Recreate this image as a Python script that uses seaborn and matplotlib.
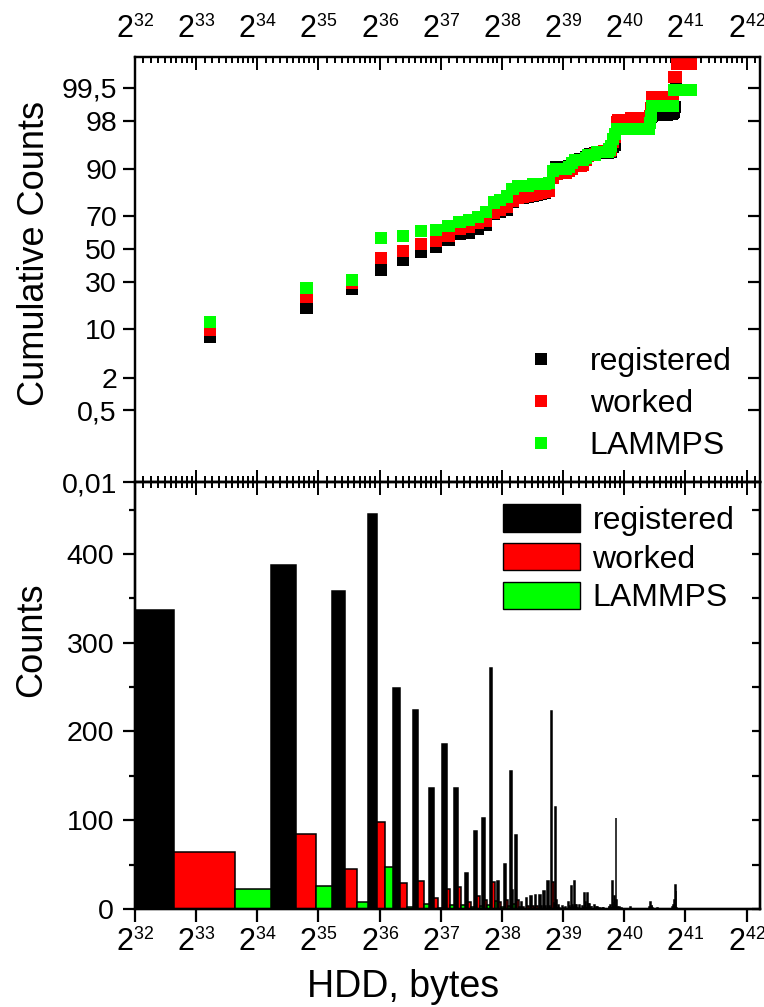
import math
import numpy as np
import pandas as pd
import matplotlib
matplotlib.use("Agg")
import matplotlib.pyplot as plt
import matplotlib._mathtext as _mt
from matplotlib.ticker import (FixedLocator, NullLocator, LogLocator, FuncFormatter,
                               MultipleLocator, NullFormatter)
from matplotlib.lines import Line2D
from matplotlib.patches import Patch
import seaborn as sns

# ---------------- data (histogram of HDD sizes, 20 GB bins starting at 0) ----------------
series_names = ["registered", "worked", "LAMMPS"]
series_colors = ["#000000", "#ff0000", "#00ff00"]
bin_width_gb = 20

registered = [337, 387, 358, 445, 249, 224, 136, 186, 136, 41,
              88, 102, 272, 32, 51, 156, 83, 8, 12, 15,
              16, 16, 20, 31, 223, 115, 5, 3, 2, 8,
              26, 31, 4, 4, 3, 18, 18, 6, 3, 5,
              2, 1, 1, 2, 1, 1, 3, 4, 31, 15,
              103, 3, 2, 1, 1, 0, 1, 0, 1, 2,
              1, 0, 1, 0, 0, 1, 0, 0, 1, 0,
              0, 0, 0, 2, 8, 4, 1, 0, 0, 0,
              1, 0, 0, 0, 0, 1, 0, 0, 0, 0,
              1, 0, 0, 0, 0, 2, 4, 10, 27, 20,
              0, 0, 0, 0, 0, 0, 0, 0, 0, 0,
              0, 0, 0, 0, 0, 0, 0]

worked = [64, 84, 45, 98, 29, 31, 12, 23, 25, 8,
          15, 10, 30, 8, 10, 21, 10, 2, 3, 3,
          3, 3, 3, 3, 30, 10, 1, 1, 0, 3,
          5, 4, 1, 0, 1, 8, 6, 2, 0, 1,
          2, 0, 0, 1, 0, 0, 1, 1, 8, 5,
          10, 1, 0, 0, 0, 0, 0, 0, 0, 1,
          0, 0, 0, 0, 0, 0, 0, 0, 0, 0,
          0, 0, 0, 1, 3, 3, 0, 0, 0, 0,
          0, 0, 0, 0, 0, 0, 0, 0, 0, 0,
          0, 0, 0, 0, 0, 0, 3, 0, 0, 1,
          0, 0, 0, 0, 0, 0, 0, 0, 0, 0,
          0, 0, 0, 0, 0, 0, 0]

lammps = [22, 26, 8, 47, 2, 6, 1, 4, 4, 2,
          3, 5, 9, 2, 3, 6, 2, 0, 0, 1,
          0, 0, 0, 1, 7, 1, 0, 0, 0, 1,
          2, 1, 0, 0, 0, 1, 1, 0, 0, 0,
          1, 0, 0, 0, 0, 0, 1, 1, 2, 1,
          1, 0, 0, 0, 0, 0, 0, 0, 0, 0,
          0, 0, 0, 0, 0, 0, 0, 0, 0, 0,
          0, 0, 0, 1, 1, 1, 0, 0, 0, 0,
          0, 0, 0, 0, 0, 0, 0, 0, 0, 0,
          0, 0, 0, 0, 0, 0, 1, 0, 0, 0,
          0, 0, 0, 0, 0, 0, 0, 0, 0, 0,
          0, 0, 0, 0, 0, 0, 0]

prob_ticks = [0.01, 0.5, 2, 10, 30, 50, 70, 90, 98, 99.5]
prob_tick_labels = ["0,01", "0,5", "2", "10", "30", "50", "70", "90", "98", "99,5"]
x_tick_exponents = list(range(32, 43))

# ---------------- probability (probit) scale helpers ----------------
_a = [-3.969683028665376e+01, 2.209460984245205e+02, -2.759285104469687e+02,
      1.383577518672690e+02, -3.066479806614716e+01, 2.506628277459239e+00]
_b = [-5.447609879822406e+01, 1.615858368580409e+02, -1.556989798598866e+02,
      6.680131188771972e+01, -1.328068155288572e+01]
_c = [-7.784894002430293e-03, -3.223964580411365e-01, -2.400758277161838e+00,
      -2.549732539343734e+00, 4.374664141464968e+00, 2.938163982698783e+00]
_d = [7.784695709041462e-03, 3.224671290700398e-01, 2.445134137142996e+00,
      3.754408661907416e+00]


def _ndtri_scalar(p):
    plow = 0.02425
    if p < plow:
        q = math.sqrt(-2 * math.log(p))
        return (((((_c[0]*q+_c[1])*q+_c[2])*q+_c[3])*q+_c[4])*q+_c[5]) / \
               ((((_d[0]*q+_d[1])*q+_d[2])*q+_d[3])*q+1)
    if p > 1 - plow:
        q = math.sqrt(-2 * math.log(1 - p))
        return -(((((_c[0]*q+_c[1])*q+_c[2])*q+_c[3])*q+_c[4])*q+_c[5]) / \
                ((((_d[0]*q+_d[1])*q+_d[2])*q+_d[3])*q+1)
    q = p - 0.5
    r = q * q
    return (((((_a[0]*r+_a[1])*r+_a[2])*r+_a[3])*r+_a[4])*r+_a[5])*q / \
           (((((_b[0]*r+_b[1])*r+_b[2])*r+_b[3])*r+_b[4])*r+1)


_ndtri = np.vectorize(_ndtri_scalar, otypes=[float])
_erf = np.vectorize(math.erf, otypes=[float])


def pct_to_z(v):
    v = np.clip(np.asarray(v, dtype=float) / 100.0, 1e-12, 1 - 1e-12)
    return _ndtri(v)


def z_to_pct(z):
    return 50.0 * (1.0 + _erf(np.asarray(z, dtype=float) / math.sqrt(2.0)))


# ---------------- derived tables ----------------
n_bins = len(registered)
bin_idx = np.arange(n_bins)
centers_bytes = (bin_idx + 0.5) * bin_width_gb * 1e9
sub_width = bin_width_gb * 1e9 / 3.0

cum_frames, bar_frames = [], []
for j, (name, counts) in enumerate(zip(series_names, [registered, worked, lammps])):
    c = np.asarray(counts, dtype=float)
    cum_frames.append(pd.DataFrame({"bytes": centers_bytes,
                                    "pct": np.cumsum(c) / (c.sum() + 1) * 100.0,
                                    "series": name}))
    bar_frames.append(pd.DataFrame({"left": bin_idx * bin_width_gb * 1e9 + j * sub_width,
                                    "count": c, "series": name}))
df_cum = pd.concat(cum_frames, ignore_index=True)
df_bar = pd.concat(bar_frames, ignore_index=True)
df_bar = df_bar[df_bar["count"] > 0]

# ---------------- style ----------------
sns.set_style("ticks")
plt.rcParams["font.family"] = ["Liberation Sans", "DejaVu Sans"]
plt.rcParams["mathtext.fontset"] = "custom"
plt.rcParams["mathtext.rm"] = "Liberation Sans"
plt.rcParams["mathtext.it"] = "Liberation Sans:italic"
plt.rcParams["mathtext.bf"] = "Liberation Sans:bold"
plt.rcParams.update({"text.color": "black", "axes.labelcolor": "black",
                     "xtick.color": "black", "ytick.color": "black",
                     "axes.edgecolor": "black"})
_mt.SHRINK_FACTOR = 0.58   # smaller exponents, as in the original labels

W, H = 764, 1007
fig = plt.figure(figsize=(W / 100, H / 100), dpi=100)
ax_left, ax_right = 135, 760
ax1 = fig.add_axes([ax_left / W, 1 - 482 / H, (ax_right - ax_left) / W, 425 / H])
ax2 = fig.add_axes([ax_left / W, 1 - 909 / H, (ax_right - ax_left) / W, 427 / H])

xlim = (2.0 ** 32, 2.0 ** 42.22)
pow2_fmt = FuncFormatter(lambda v, pos: r"$\mathregular{2^{%d}}$" % round(math.log2(v)))
major_x = FixedLocator([2.0 ** e for e in x_tick_exponents])
spine_lw = 1.6
xlab_size = 22
ylab_size = 20.5

# ---------------- top: cumulative counts on probability scale ----------------
sns.scatterplot(data=df_cum, x="bytes", y="pct", hue="series", hue_order=series_names,
                palette=series_colors, marker="s", s=76, linewidth=0, legend=False, ax=ax1)
ax1.set_xscale("log", base=2)
ax1.set_yscale("function", functions=(pct_to_z, z_to_pct))
ax1.set_xlim(*xlim)
ax1.set_ylim(0.01, 99.893)
ax1.yaxis.set_major_locator(FixedLocator(prob_ticks))
ax1.set_yticklabels(prob_tick_labels)
ax1.yaxis.set_minor_locator(NullLocator())
ax1.xaxis.set_major_locator(major_x)
ax1.xaxis.set_major_formatter(pow2_fmt)
ax1.xaxis.set_minor_locator(LogLocator(base=2, subs=np.arange(1.1, 1.95, 0.1), numticks=60))
ax1.xaxis.set_minor_formatter(NullFormatter())
ax1.tick_params(axis="x", which="both", direction="in", top=True, bottom=True,
                labeltop=True, labelbottom=False, labelsize=xlab_size, width=1.4, pad=8)
ax1.tick_params(axis="x", which="major", length=9)
ax1.tick_params(axis="x", which="minor", length=4.5)
ax1.tick_params(axis="y", which="major", direction="out", length=9, width=1.6,
                labelsize=ylab_size, pad=4)
ax1.set_xlabel("")
ax1.set_ylabel("Cumulative Counts", fontsize=26)
ax1.yaxis.set_label_coords(-0.133, 0.538)

ax1r = ax1.twinx()
ax1r.set_yscale("function", functions=(pct_to_z, z_to_pct))
ax1r.set_ylim(ax1.get_ylim())
ax1r.yaxis.set_major_locator(FixedLocator(prob_ticks))
ax1r.yaxis.set_minor_locator(NullLocator())
ax1r.tick_params(axis="y", which="major", direction="in", length=9, width=1.6,
                 labelright=False)

top_handles = [Line2D([], [], marker="s", ls="", color=c, markersize=8.7, markeredgewidth=0)
               for c in series_colors]
ax1.legend(top_handles, series_names, loc="upper left", frameon=False, fontsize=23,
           bbox_to_anchor=(509 / W, 1 - 347 / H), bbox_transform=fig.transFigure,
           borderpad=0, borderaxespad=0, handlelength=2.0, handletextpad=0.53,
           labelspacing=0.38)

# ---------------- bottom: counts histogram ----------------
for name, color in zip(series_names, series_colors):
    sub = df_bar[df_bar["series"] == name]
    ax2.bar(sub["left"], sub["count"], width=sub_width, align="edge",
            color=color, edgecolor="black", linewidth=1.1)
ax2.set_xscale("log", base=2, nonpositive="clip")
ax2.set_xlim(*xlim)
ax2.set_ylim(0, 481)
ax2.xaxis.set_major_locator(major_x)
ax2.xaxis.set_major_formatter(pow2_fmt)
ax2.xaxis.set_minor_locator(NullLocator())
ax2.yaxis.set_major_locator(MultipleLocator(100))
ax2.yaxis.set_minor_locator(MultipleLocator(50))
ax2.tick_params(axis="x", which="major", direction="out", length=9, width=1.6,
                labelsize=xlab_size, pad=5, top=False)
ax2.tick_params(axis="y", which="major", direction="out", length=9, width=1.6,
                labelsize=ylab_size, pad=6)
ax2.tick_params(axis="y", which="minor", direction="out", length=4.5, width=1.6)
ax2.set_xlabel("HDD, bytes", fontsize=27)
ax2.xaxis.set_label_coords(0.429, -0.14)
ax2.set_ylabel("Counts", fontsize=26)
ax2.yaxis.set_label_coords(-0.138, 0.63)

ax2r = ax2.twinx()
ax2r.set_ylim(ax2.get_ylim())
ax2r.yaxis.set_major_locator(MultipleLocator(100))
ax2r.yaxis.set_minor_locator(MultipleLocator(50))
ax2r.tick_params(axis="y", which="both", direction="in", length=6, width=1.6,
                 labelright=False)

ax2t = ax2.twiny()
ax2t.set_xscale("log", base=2)
ax2t.set_xlim(*xlim)
ax2t.xaxis.set_major_locator(FixedLocator([2.0 ** e for e in x_tick_exponents]))
ax2t.xaxis.set_minor_locator(LogLocator(base=2, subs=np.arange(1.1, 1.95, 0.1), numticks=60))
ax2t.xaxis.set_minor_formatter(NullFormatter())
ax2t.tick_params(axis="x", which="both", direction="in", width=1.4, labeltop=False)
ax2t.tick_params(axis="x", which="major", length=9)
ax2t.tick_params(axis="x", which="minor", length=4.5)

bottom_handles = [Patch(facecolor=c, edgecolor="black", linewidth=1.0) for c in series_colors]
ax2.legend(bottom_handles, series_names, loc="upper left", frameon=False, fontsize=23,
           bbox_to_anchor=(503 / W, 1 - 504 / H), bbox_transform=fig.transFigure,
           borderpad=0, borderaxespad=0, handlelength=2.4, handleheight=0.95,
           handletextpad=0.4, labelspacing=0.22)

for ax in (ax1, ax2, ax1r, ax2r, ax2t):
    for sp in ax.spines.values():
        sp.set_linewidth(spine_lw)

fig.savefig("out.png", dpi=100)
